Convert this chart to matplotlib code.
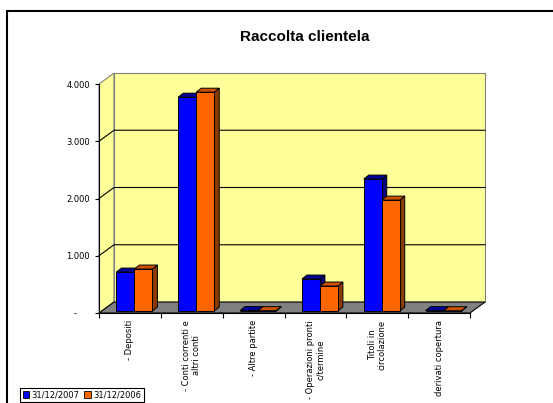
import matplotlib
matplotlib.use('Agg')
import matplotlib.pyplot as plt
from matplotlib.patches import Polygon, Rectangle, Patch
from matplotlib.ticker import FixedLocator, FuncFormatter

# dati
categories = ['- Depositi', '- Conti correnti e\naltri conti', '- Altre partite',
              '- Operazioni pronti\nc/termine', 'Titoli in\ncircolazione', 'derivati copertura']
v2007 = [680, 3735, 8, 558, 2304, 6]
v2006 = [733, 3822, 6, 436, 1937, 5]
series = ['31/12/2007', '31/12/2006']
y_ticks = [0, 1000, 2000, 3000, 4000]

# colori: fronte, sopra, lato
c2007 = ('#0000FF', '#000099', '#000080')
c2006 = ('#FF6600', '#CC5200', '#8B3A00')

W, H = 553, 403
fig = plt.figure(figsize=(W / 100, H / 100), dpi=100)
ax = fig.add_axes([99 / W, (H - 313) / H, 371 / W, 229 / H])
ax.set_xlim(0, len(categories))
ax.set_ylim(0, y_ticks[-1])
ax.patch.set_visible(False)

# pixel -> unita dati (per la finta prospettiva)
xu = len(categories) / 371
yu = y_ticks[-1] / 229


def px(dx, dy):
    return dx * xu, dy * yu


n = len(categories)
top = y_ticks[-1]
wx, wy = px(15, 11)

# pareti
ax.add_patch(Polygon([(0, 0), (0, top), (wx, top + wy), (wx, wy)], closed=True,
                     fc='#FFFF99', ec='#808080', lw=0.8, clip_on=False, zorder=0))
ax.add_patch(Rectangle((wx, wy), n, top, fc='#FFFF99', ec='#808080', lw=0.8,
                       clip_on=False, zorder=0))
for v in y_ticks[1:-1]:
    ax.plot([0, wx, n + wx], [v, v + wy, v + wy], color='black', lw=0.8,
            clip_on=False, zorder=1)
# pavimento
ax.add_patch(Polygon([(0, 0), (n, 0), (n + wx, wy), (wx, wy)], closed=True,
                     fc='#808080', ec='black', lw=0.8, clip_on=False, zorder=1))

# barre
bpx, bpy = px(4.5, 2)
dpx, dpy = px(5, 4)
bw = 18 * xu
z = 3
for i in range(n):
    c = i + 0.5 + bpx
    for j, (vals, cols) in enumerate([(v2007, c2007), (v2006, c2006)]):
        x0 = c - bw + j * bw
        v = vals[i]
        y0, y1 = bpy, bpy + v
        side = [(x0 + bw, y0), (x0 + bw, y1), (x0 + bw + dpx, y1 + dpy), (x0 + bw + dpx, y0 + dpy)]
        cap = [(x0, y1), (x0 + bw, y1), (x0 + bw + dpx, y1 + dpy), (x0 + dpx, y1 + dpy)]
        ax.add_patch(Polygon(side, closed=True, fc=cols[2], ec='black', lw=0.7, clip_on=False, zorder=z))
        ax.add_patch(Polygon(cap, closed=True, fc=cols[1], ec='black', lw=0.7, clip_on=False, zorder=z))
        ax.add_patch(Rectangle((x0, y0), bw, v, fc=cols[0], ec='black', lw=0.7, clip_on=False, zorder=z))
        z += 1

# assi
for s in ['top', 'right']:
    ax.spines[s].set_visible(False)
for s in ['left', 'bottom']:
    ax.spines[s].set_linewidth(0.8)
    ax.spines[s].set_zorder(2)

ax.yaxis.set_major_locator(FixedLocator(y_ticks))
ax.yaxis.set_major_formatter(FuncFormatter(
    lambda v, p: '-     ' if v == 0 else f'{int(v):,}'.replace(',', '.')))
ax.tick_params(axis='y', direction='out', length=3, width=0.8, pad=3.5, labelsize=6)

ax.set_xticks(range(n + 1))
ax.set_xticklabels([])
ax.set_xticks([i + 0.5 for i in range(n)], minor=True)
ax.set_xticklabels(categories, minor=True, rotation=90, fontsize=6, va='top',
                   ha='center', multialignment='center')
ax.tick_params(axis='x', which='major', direction='out', length=3.6, width=0.8)
ax.tick_params(axis='x', which='minor', length=0, pad=5)

fig.text(305 / W, 1 - 37 / H, 'Raccolta clientela', ha='center', va='center',
         fontsize=11, fontweight='bold', family='Liberation Sans')

handles = [Patch(fc=c2007[0], ec='black', lw=0.6, label=series[0]),
           Patch(fc=c2006[0], ec='black', lw=0.6, label=series[1])]
leg = fig.legend(handles=handles, loc='lower left', bbox_to_anchor=(20 / W, 1 / H),
                 ncol=2, fontsize=6, frameon=True, fancybox=False, edgecolor='black',
                 framealpha=1, handlelength=0.8, handleheight=0.8, handletextpad=0.3,
                 columnspacing=0.5, borderpad=0.3, borderaxespad=0)
leg.get_frame().set_linewidth(0.8)

# cornice
fig.add_artist(Rectangle((7 / W, -0.1), 1.1, (1 - 11 / H) + 0.1, transform=fig.transFigure,
                         fill=False, ec='black', lw=1.5))

fig.savefig('out.png', dpi=100)
